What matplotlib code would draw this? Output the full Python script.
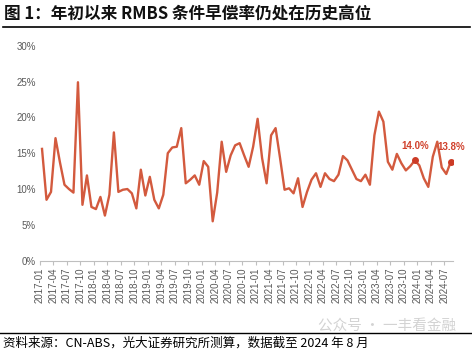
import matplotlib
matplotlib.use("Agg")
import matplotlib.pyplot as plt
import numpy as np
import pandas as pd

# ---- data ----
months = [p.strftime("%Y-%m") for p in pd.period_range("2017-01", "2024-08", freq="M")]
cpr = [15.6, 8.5, 9.6, 17.1, 13.7, 10.6, 10.0, 9.5, 24.9, 7.8, 11.9, 7.5,
       7.2, 8.9, 6.3, 9.2, 17.9, 9.6, 9.9, 10.0, 9.4, 7.3, 12.7, 9.1,
       11.7, 8.5, 7.3, 9.2, 15.0, 15.8, 15.9, 18.5, 10.8, 11.3, 11.9, 10.6,
       13.9, 13.1, 5.5, 9.5, 16.6, 12.4, 14.7, 16.1, 16.4, 14.7, 13.1, 15.9,
       19.8, 14.3, 10.8, 17.5, 18.5, 14.3, 9.9, 10.1, 9.4, 11.5, 7.5, 9.6,
       11.3, 12.2, 10.3, 12.2, 11.4, 11.1, 12.0, 14.6, 14.0, 12.7, 11.4, 11.1,
       12.0, 10.6, 17.5, 20.8, 19.4, 13.8, 12.7, 14.9, 13.6, 12.6, 13.2, 14.0,
       13.3, 11.5, 10.3, 14.5, 16.6, 13.0, 12.1, 13.8]
highlight_months = ["2023-12", "2024-08"]
highlight_labels = ["14.0%", "13.8%"]
yticks = [0, 5, 10, 15, 20, 25, 30]
ytick_labels = ["0%", "5%", "10%", "15%", "20%", "25%", "30%"]
tick_months = months[0:91:3]

title = "图 1：年初以来 RMBS 条件早偿率仍处在历史高位"
source = "资料来源：CN-ABS，光大证券研究所测算，数据截至 2024 年 8 月"
watermark = "公众号 · 一丰看金融"

CJK = ["Noto Sans CJK SC", "DejaVu Sans"]
NUM = ["Liberation Sans", "Noto Sans CJK SC"]
line_color = "#D35A3E"
grey = "#595959"

fig = plt.figure(figsize=(4.72, 3.51), dpi=100)
ax = fig.add_axes([40 / 472, 1 - 260.7 / 351, (453 - 40) / 472, (260.7 - 45.7) / 351])

x = np.arange(len(months))
ax.plot(x, cpr, color=line_color, lw=1.7, solid_joinstyle="round")

idx = {m: i for i, m in enumerate(months)}
for m, lab in zip(highlight_months, highlight_labels):
    i = idx[m]
    ax.plot(i, cpr[i], "o", color="#CC3B26", ms=4, zorder=5)
    ax.annotate(lab, (i, cpr[i]), xytext=(0, 7), textcoords="offset points",
                ha="center", va="bottom", fontsize=7, fontweight="bold",
                color="#D0402B", family=NUM, zorder=4)

ax.set_ylim(0, 30)
ax.set_xlim(-0.45, len(months) - 0.5)
ax.set_yticks(yticks)
ax.set_yticklabels(ytick_labels, family=NUM, fontsize=7, color=grey)
ax.set_xticks([idx[m] - 0.45 for m in tick_months])
ax.set_xticklabels(tick_months, rotation=90, family=NUM, fontsize=7, color=grey)

for s in ["top", "right", "left"]:
    ax.spines[s].set_visible(False)
ax.spines["bottom"].set_color("#BFBFBF")
ax.spines["bottom"].set_linewidth(0.8)
ax.tick_params(axis="y", length=0, pad=3)
ax.tick_params(axis="x", length=3, color="#BFBFBF", width=0.8, pad=2)

# title and frame lines
fig.text(4 / 472, 1 - 13.5 / 351, title, family=CJK, fontsize=12, fontweight="bold",
         color="#111111", ha="left", va="center")
fig.add_artist(plt.Line2D([3 / 472, 470 / 472], [1 - 26.7 / 351] * 2, color="black", lw=1.2))
fig.add_artist(plt.Line2D([0, 1], [1 - 333 / 351] * 2, color="black", lw=1.0))
fig.text(3 / 472, 1 - 343 / 351, source, family=CJK, fontsize=9, color="black",
         ha="left", va="center")
fig.text(456 / 472, 1 - 326 / 351, watermark, family=CJK, fontsize=10.5, color="#C8C8C8",
         ha="right", va="center", alpha=0.8)

fig.savefig("out.png", dpi=100)
